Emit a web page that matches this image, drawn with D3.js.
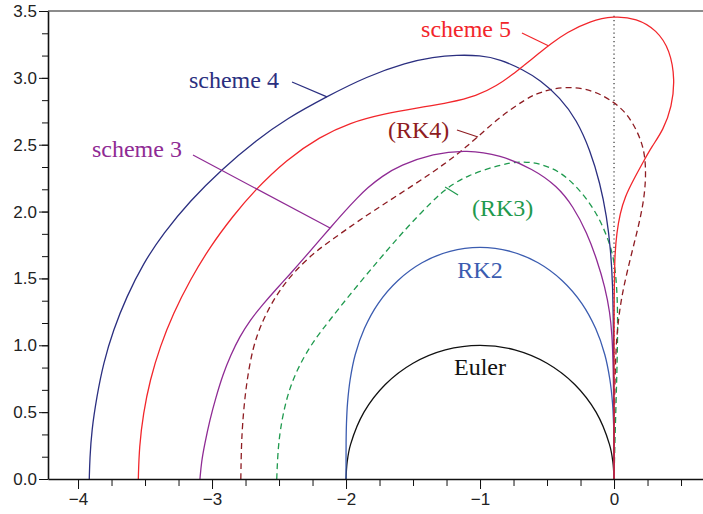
<!DOCTYPE html>
<html>
<head>
<meta charset="utf-8">
<title>Stability regions</title>
<style>
  body { margin: 0; background: #fff; }
  .axis text { font-family: "Liberation Sans", Arial, sans-serif; font-size: 17px; fill: #222; }
  .axis path, .axis line { stroke: #111; }
  .lbl { font-family: "Liberation Serif", "Times New Roman", serif; font-size: 24px; }
  .curve { fill: none; stroke-width: 1.3px; }
</style>
</head>
<body>
<svg width="703" height="514"></svg>
<script src="https://d3js.org/d3.v7.min.js"></script>
<script>
// boundary points [re, im]
var euler = [[-2,0],[-1.991,0.131],[-1.966,0.259],[-1.866,0.5],[-1.707,0.707],[-1.5,0.866],[-1.259,0.966],[-1,1],
  [-0.741,0.966],[-0.5,0.866],[-0.293,0.707],[-0.134,0.5],[-0.034,0.259],[-0.009,0.131],[0,0]];
var rk2 = [[-2,0],[-1.9994,0.268],[-1.9967,0.413],[-1.9885,0.571],[-1.969,0.744],[-1.931,0.931],[-1.863,1.125],
  [-1.759,1.314],[-1.614,1.483],[-1.433,1.617],[-1.224,1.703],[-1,1.732],[-0.776,1.703],[-0.567,1.617],
  [-0.386,1.483],[-0.241,1.314],[-0.137,1.125],[-0.069,0.931],[-0.031,0.744],[-0.0115,0.571],[-0.0033,0.413],
  [-0.0006,0.268],[0,0]];
var rk3 = [[-2.517,0],[-2.51,0.18],[-2.493,0.366],[-2.443,0.616],[-2.368,0.815],[-2.269,0.99],[-2.194,1.095],
  [-2.05,1.28],[-1.90,1.465],[-1.75,1.645],[-1.62,1.795],[-1.522,1.905],[-1.349,2.085],[-1.249,2.175],
  [-1.099,2.27],[-0.851,2.35],[-0.70,2.378],[-0.552,2.36],[-0.403,2.30],[-0.278,2.186],[-0.179,2.062],
  [-0.104,1.937],[-0.042,1.788],[-0.005,1.663],[0.015,1.513],[0.025,1.339],[0.028,1.139],[0.022,0.8],
  [0.01,0.4],[0,0]];
var rk4 = [[-2.785,0],[-2.782,0.2],[-2.774,0.4],[-2.748,0.688],[-2.697,0.987],[-2.622,1.187],[-2.522,1.376],
  [-2.398,1.539],[-2.244,1.688],[-2.119,1.78],[-1.995,1.868],[-1.86,1.963],[-1.61,2.125],[-1.36,2.288],
  [-1.174,2.424],[-1.025,2.55],[-0.851,2.71],[-0.651,2.847],[-0.55,2.895],[-0.36,2.94],[-0.154,2.909],
  [-0.005,2.822],[0.095,2.735],[0.169,2.61],[0.219,2.485],[0.239,2.336],[0.231,2.137],[0.194,1.937],
  [0.144,1.738],[0.095,1.538],[0.057,1.364],[0.032,1.189],[0.015,1.0],[0.006,0.7],[0.002,0.4],[0,0]];
var scheme3 = [[-3.09,0],[-3.079,0.127],[-3.056,0.254],[-3.017,0.441],[-2.97,0.613],[-2.92,0.778],
  [-2.86,0.927],[-2.795,1.062],[-2.715,1.189],[-2.625,1.301],[-2.52,1.421],[-2.41,1.541],[-2.306,1.66],
  [-2.209,1.773],[-2.119,1.877],[-2.007,2.005],[-1.918,2.10],[-1.843,2.175],[-1.731,2.265],[-1.597,2.345],
  [-1.351,2.435],[-1.097,2.461],[-0.851,2.423],[-0.604,2.319],[-0.425,2.191],[-0.306,2.041],[-0.201,1.84],
  [-0.127,1.638],[-0.067,1.436],[-0.03,1.242],[-0.015,1.077],[-0.007,0.89],[-0.002,0.591],[0,0]];
var scheme4 = [[-3.916,0],[-3.912,0.15],[-3.898,0.366],[-3.86,0.616],[-3.811,0.865],[-3.737,1.114],[-3.637,1.364],
  [-3.513,1.613],[-3.363,1.838],[-3.164,2.08],[-2.928,2.316],[-2.666,2.536],[-2.443,2.695],[-2.144,2.86],
  [-1.846,3.01],[-1.547,3.115],[-1.35,3.155],[-1.174,3.171],[-1.0,3.168],[-0.851,3.14],[-0.677,3.06],
  [-0.552,2.984],[-0.403,2.853],[-0.278,2.685],[-0.179,2.461],[-0.104,2.212],[-0.054,1.962],[-0.025,1.713],
  [-0.01,1.464],[-0.004,1.114],[-0.001,0.6],[0,0]];
var scheme5 = [[-3.55,0],[-3.543,0.242],[-3.513,0.491],[-3.463,0.74],[-3.388,0.99],[-3.289,1.239],[-3.164,1.488],
  [-3.015,1.737],[-2.841,1.97],[-2.69,2.15],[-2.443,2.39],[-2.194,2.56],[-1.97,2.665],[-1.722,2.73],
  [-1.472,2.775],[-1.224,2.815],[-1.025,2.865],[-0.875,2.94],[-0.751,3.03],[-0.677,3.09],[-0.552,3.19],
  [-0.478,3.25],[-0.353,3.34],[-0.179,3.425],[-0.005,3.463],[0.169,3.446],[0.319,3.358],[0.418,3.209],
  [0.455,2.984],[0.431,2.785],[0.368,2.61],[0.281,2.485],[0.219,2.373],[0.144,2.236],[0.082,2.111],
  [0.045,1.987],[0.02,1.838],[0.007,1.688],[0,1.464],[0,0]];

var curveNames = ["Euler", "RK2", "(RK3)", "(RK4)", "scheme 3", "scheme 4", "scheme 5"];
var curveData = [euler, rk2, rk3, rk4, scheme3, scheme4, scheme5];
var curveColors = ["#111111", "#3b5cb0", "#1f9a4e", "#8e1c22", "#8f2b94", "#2b2f80", "#f2262b"];
var curveDash = [null, null, "6,4", "6,4", null, null, null];
var curveKind = ["exact", "exact", "read", "read", "read", "read", "read"];

// label anchor [re, im], text-anchor; pointer [from, to]
var labelPos = [[-1, 0.778], [-1, 1.503], [-1.060, 1.967], [-1.687, 2.550], [-3.896, 2.408], [-3.172, 2.924], [-1.440, 3.306]];
var labelAnchor = ["middle", "middle", "start", "start", "start", "start", "start"];
var pointers = [null, null,
  [[-1.164, 2.124], [-1.261, 2.184]],
  [[-1.172, 2.610], [-1.015, 2.558]],
  [[-3.142, 2.423], [-2.119, 1.877]],
  [[-2.403, 2.969], [-2.142, 2.858]],
  [[-0.687, 3.336], [-0.49, 3.24]]];

var xTicks = [-4, -3, -2, -1, 0];
var xMinor = d3.range(-4, 0.51, 0.25);
var yTicks = [0, 0.5, 1, 1.5, 2, 2.5, 3, 3.5];
var yMinor = d3.range(0, 3.51, 0.5 / 3);

var svg = d3.select("svg");
var x = d3.scaleLinear().domain([-4.224, 0.664]).range([48, 703]);
var y = d3.scaleLinear().domain([0, 3.5]).range([479, 11]);

function lineFor(kind) {
  return d3.line()
    .x(function (d) { return x(d[0]); })
    .y(function (d) { return y(d[1]); })
    .curve(kind === "exact" ? d3.curveCatmullRom.alpha(0.5) : d3.curveBasis);
}

// top frame line
svg.append("line")
    .attr("x1", x.range()[0]).attr("x2", x.range()[1])
    .attr("y1", y(3.5)).attr("y2", y(3.5))
    .attr("stroke", "#666").attr("stroke-width", 1.5);

// imaginary axis, dotted
svg.append("line")
    .attr("x1", x(0)).attr("x2", x(0))
    .attr("y1", y(0)).attr("y2", y(3.47))
    .attr("stroke", "#333").attr("stroke-width", 1.2)
    .attr("stroke-dasharray", "1.2,3");

svg.append("g").selectAll("path")
    .data(curveData)
    .enter().append("path")
    .attr("class", "curve")
    .attr("d", function (d, i) { return lineFor(curveKind[i])(d); })
    .attr("stroke", function (d, i) { return curveColors[i]; })
    .attr("stroke-dasharray", function (d, i) { return curveDash[i]; });

svg.append("g").selectAll("line")
    .data(pointers.map(function (p, i) { return {p: p, i: i}; }).filter(function (d) { return d.p; }))
    .enter().append("line")
    .attr("x1", function (d) { return x(d.p[0][0]); })
    .attr("y1", function (d) { return y(d.p[0][1]); })
    .attr("x2", function (d) { return x(d.p[1][0]); })
    .attr("y2", function (d) { return y(d.p[1][1]); })
    .attr("stroke", function (d) { return curveColors[d.i]; })
    .attr("stroke-width", 1.2);

svg.append("g").selectAll("text")
    .data(curveNames)
    .enter().append("text")
    .attr("class", "lbl")
    .attr("x", function (d, i) { return x(labelPos[i][0]); })
    .attr("y", function (d, i) { return y(labelPos[i][1]); })
    .attr("text-anchor", function (d, i) { return labelAnchor[i]; })
    .attr("fill", function (d, i) { return curveColors[i]; })
    .text(function (d) { return d; });

// axes
svg.append("g")
    .attr("class", "axis")
    .attr("transform", "translate(0," + y(0) + ")")
    .call(d3.axisBottom(x).tickValues(xMinor).tickSize(7).tickFormat(""))
    .call(function (g) { g.select(".domain").remove(); });
svg.append("g")
    .attr("class", "axis")
    .attr("transform", "translate(0," + y(0) + ")")
    .call(d3.axisBottom(x).tickValues(xTicks).tickSize(10).tickPadding(4).tickSizeOuter(0).tickFormat(d3.format("d")))
    .call(function (g) { g.select(".domain").attr("stroke-width", 1.6); });

svg.append("g")
    .attr("class", "axis")
    .attr("transform", "translate(" + x.range()[0] + ",0)")
    .call(d3.axisLeft(y).tickValues(yMinor).tickSize(6).tickFormat(""))
    .call(function (g) { g.select(".domain").remove(); });
svg.append("g")
    .attr("class", "axis")
    .attr("transform", "translate(" + x.range()[0] + ",0)")
    .call(d3.axisLeft(y).tickValues(yTicks).tickSize(9).tickPadding(2).tickSizeOuter(0).tickFormat(d3.format(".1f")))
    .call(function (g) { g.select(".domain").attr("stroke-width", 1.6); });
</script>
</body>
</html>
